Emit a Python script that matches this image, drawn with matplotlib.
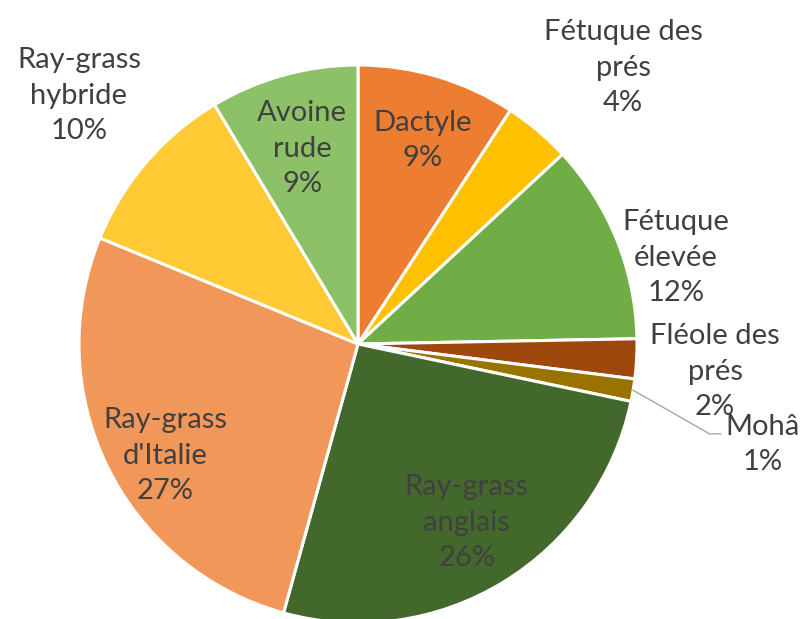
import matplotlib
matplotlib.use("Agg")
import matplotlib.pyplot as plt
import numpy as np

categories = ["Dactyle", "Fétuque des\nprés", "Fétuque\nélevée", "Fléole des\nprés", "Mohâ",
              "Ray-grass\nanglais", "Ray-grass\nd'Italie", "Ray-grass\nhybride", "Avoine\nrude"]
values = [9.2, 3.9, 11.6, 2.3, 1.3, 26.0, 26.9, 10.2, 8.6]
colors = ["#ED7D31", "#FFC000", "#70AD47", "#9E480E", "#997300",
          "#43682B", "#F1975A", "#FFCA33", "#8CC168"]

# label centres in units of pie radius (layout only)
label_pos = [(0.23, 0.73), (0.95, 0.99), (1.14, 0.31), (1.28, -0.10), (1.45, -0.36),
             (0.39, -0.64), (-0.69, -0.40), (-1.00, 0.89), (-0.20, 0.70)]

R_PX = 279.0
W, H = 807, 619
CX, CY = 358.0, 344.0

fig = plt.figure(figsize=(W / 100, H / 100), dpi=100)
ax = fig.add_axes([0, 0, 1, 1])

wedges, _ = ax.pie(values, colors=colors, startangle=90, counterclock=False,
                   radius=1.0, center=(0, 0), frame=True,
                   wedgeprops=dict(edgecolor="white", linewidth=2.2))
ax.set_xlim(-CX / R_PX, (W - CX) / R_PX)
ax.set_ylim(-(H - CY) / R_PX, CY / R_PX)
ax.set_aspect("equal")
ax.axis("off")

font = "Lato"
for i, (cat, v) in enumerate(zip(categories, values)):
    x, y = label_pos[i]
    txt = f"{cat}\n{round(v):d}%"
    ax.text(x, y, txt, ha="center", va="center", fontsize=21, family=font,
            color="#404040", linespacing=1.45, zorder=5)

# leader line for Mohâ
w = wedges[4]
mid = np.deg2rad((w.theta1 + w.theta2) / 2)
x0, y0 = 1.0 * np.cos(mid), 1.0 * np.sin(mid)
ax.plot([x0, 1.26, 1.30], [y0, -0.322, -0.322], color="#A6A6A6", lw=1.0, zorder=4)

fig.savefig("out.png", dpi=100)
